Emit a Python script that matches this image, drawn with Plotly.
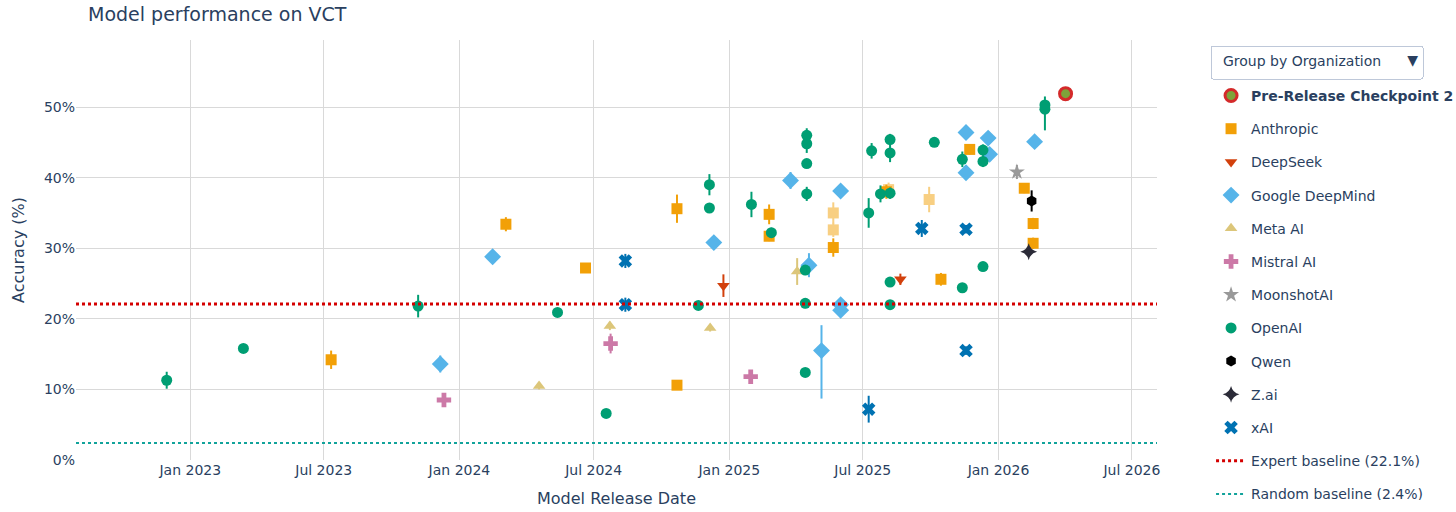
import plotly.graph_objects as go

# plot window
x_range = ["2022-07-30", "2026-08-04"]
y_range = [0, 59.5]

expert_baseline = 22.1
random_baseline = 2.4

prerelease_dates = ["2026-04-02"]
prerelease_acc = [51.9]

anthropic_dates = ["2023-07-11", "2024-03-04", "2024-06-20", "2024-10-22", "2024-10-22",
                   "2025-02-24", "2025-02-24", "2025-05-22", "2025-08-02", "2025-10-15",
                   "2025-11-23", "2026-02-05", "2026-02-17", "2026-02-17"]
anthropic_acc = [14.2, 33.4, 27.2, 10.6, 35.6, 34.8, 31.7, 30.1, 38.0, 25.6, 44.0, 38.5, 33.5, 30.7]
anthropic_err = [1.3, 1.0, 0.6, 0.6, 2.0, 1.4, 0.7, 1.3, 1.0, 0.9, 0.7, 0.7, 0.8, 0.8]

# lighter Anthropic variants
anthropic_alt_dates = ["2025-05-22", "2025-05-22", "2025-08-05", "2025-09-29"]
anthropic_alt_acc = [35.0, 32.6, 38.3, 36.9]
anthropic_alt_err = [1.5, 1.0, 1.0, 1.8]

deepseek_dates = ["2024-12-24", "2025-08-21"]
deepseek_acc = [24.7, 25.6]
deepseek_err = [1.6, 0.8]

gdm_dates = ["2023-12-06", "2024-02-15", "2024-12-11", "2025-03-25", "2025-04-19",
             "2025-05-06", "2025-06-01", "2025-06-01", "2025-06-01", "2025-11-18",
             "2025-11-18", "2025-12-18", "2025-12-20", "2026-02-19"]
gdm_acc = [13.6, 28.8, 30.8, 39.6, 27.6, 15.5, 38.1, 22.0, 21.2, 46.4, 40.7, 45.6, 43.3, 45.1]
gdm_err_up = [1.2, 0.5, 0.5, 1.2, 1.7, 3.6, 0.7, 0.8, 0.7, 0.6, 0.6, 1.0, 0.7, 0.9]
gdm_err_down = [1.2, 0.5, 0.5, 1.2, 1.7, 6.8, 0.7, 0.8, 0.7, 0.6, 0.6, 1.0, 0.7, 0.9]

meta_dates = ["2024-04-18", "2024-07-23", "2024-12-06", "2025-04-03"]
meta_acc = [10.5, 19.0, 18.7, 26.7]
meta_err = [0.5, 0.6, 0.5, 1.9]

mistral_dates = ["2023-12-11", "2024-07-24", "2025-01-30"]
mistral_acc = [8.5, 16.5, 11.8]
mistral_err = [0.6, 1.4, 0.8]

moonshot_dates = ["2026-01-26"]
moonshot_acc = [40.8]
moonshot_err = [1.0]

openai_dates = ["2022-11-30", "2023-03-14", "2023-11-06", "2024-05-13", "2024-07-18",
                "2024-11-20", "2024-12-05", "2024-12-05", "2025-01-31", "2025-02-27",
                "2025-04-14", "2025-04-14", "2025-04-14", "2025-04-16", "2025-04-16",
                "2025-04-16", "2025-04-16", "2025-07-09", "2025-07-13", "2025-07-25",
                "2025-08-07", "2025-08-07", "2025-08-07", "2025-08-07", "2025-08-07",
                "2025-10-06", "2025-11-13", "2025-11-13", "2025-12-11", "2025-12-11",
                "2025-12-11", "2026-03-05", "2026-03-05"]
openai_acc = [11.3, 15.8, 21.8, 20.9, 6.6, 21.9, 39.0, 35.7, 36.2, 32.2,
              26.9, 22.2, 12.4, 46.0, 44.8, 42.0, 37.7, 35.0, 43.8, 37.7,
              45.4, 43.5, 37.8, 25.2, 22.0, 45.0, 42.6, 24.4, 43.9, 42.3,
              27.4, 50.3, 49.7]
openai_err_up = [1.2, 0.5, 1.6, 0.6, 0.5, 0.6, 1.5, 0.6, 1.8, 0.7,
                 0.7, 0.7, 0.5, 1.0, 1.0, 0.6, 1.0, 2.1, 1.1, 1.2,
                 0.8, 1.3, 0.8, 0.6, 0.6, 0.6, 1.1, 0.6, 0.8, 0.8,
                 0.6, 1.2, 1.0]
openai_err_down = [1.2, 0.5, 1.6, 0.6, 0.5, 0.6, 1.5, 0.6, 1.8, 0.7,
                   0.7, 0.7, 0.5, 1.0, 1.3, 0.6, 1.0, 2.1, 1.1, 1.2,
                   0.8, 1.3, 0.8, 0.6, 0.6, 0.6, 1.1, 0.6, 0.8, 0.8,
                   0.6, 1.2, 3.0]

qwen_dates = ["2026-02-15"]
qwen_acc = [36.7]
qwen_err = [1.5]

zai_dates = ["2026-02-11"]
zai_acc = [29.5]
zai_err = [0.6]

xai_dates = ["2024-08-13", "2024-08-13", "2025-07-09", "2025-09-19", "2025-11-18", "2025-11-18"]
xai_acc = [28.2, 22.0, 7.2, 32.8, 32.7, 15.5]
xai_err = [1.0, 1.0, 1.9, 1.2, 0.6, 0.6]

TEXT = "#2a3f5f"
GRID = "#d9d9d9"

fig = go.Figure()


def add_org(name, dates, acc, err_up, err_down, color, symbol, size=11, opacity=1.0,
            showlegend=True, group=None):
    fig.add_trace(go.Scatter(
        x=dates, y=acc, mode="markers", name=name,
        legendgroup=group or name, showlegend=showlegend,
        marker=dict(color=color, symbol=symbol, size=size),
        error_y=dict(type="data", symmetric=False, array=err_up, arrayminus=err_down,
                     color=color, thickness=2, width=0),
        opacity=opacity,
    ))


fig.add_trace(go.Scatter(
    x=prerelease_dates, y=prerelease_acc, mode="markers",
    name="<b>Pre-Release Checkpoint 2</b>", legendgroup="pre",
    marker=dict(color="#7ea33a", symbol="circle", size=12,
                line=dict(color="#d42a2a", width=3)),
))
add_org("Anthropic", anthropic_dates, anthropic_acc, anthropic_err, anthropic_err, "#F2A007", "square")
add_org("Anthropic", anthropic_alt_dates, anthropic_alt_acc, anthropic_alt_err, anthropic_alt_err,
        "#F2A007", "square", opacity=0.5, showlegend=False, group="Anthropic")
add_org("DeepSeek", deepseek_dates, deepseek_acc, deepseek_err, deepseek_err, "#D2400C", "triangle-down")
add_org("Google DeepMind", gdm_dates, gdm_acc, gdm_err_up, gdm_err_down, "#56B4E9", "diamond", size=13)
add_org("Meta AI", meta_dates, meta_acc, meta_err, meta_err, "#DCC67A", "triangle-up")
add_org("Mistral AI", mistral_dates, mistral_acc, mistral_err, mistral_err, "#CC79A7", "cross", size=12)
add_org("MoonshotAI", moonshot_dates, moonshot_acc, moonshot_err, moonshot_err, "#999999", "star", size=12)
add_org("OpenAI", openai_dates, openai_acc, openai_err_up, openai_err_down, "#009E73", "circle")
add_org("Qwen", qwen_dates, qwen_acc, qwen_err, qwen_err, "#000000", "hexagon")
add_org("Z.ai", zai_dates, zai_acc, zai_err, zai_err, "#2b2b38", "star-diamond", size=12)
add_org("xAI", xai_dates, xai_acc, xai_err, xai_err, "#0072B2", "x", size=12)

fig.add_trace(go.Scatter(
    x=x_range, y=[expert_baseline] * 2, mode="lines",
    name=f"Expert baseline ({expert_baseline}%)", legendgroup="expert",
    line=dict(color="#d40000", width=3, dash="dot"), hoverinfo="skip",
))
fig.add_trace(go.Scatter(
    x=x_range, y=[random_baseline] * 2, mode="lines",
    name=f"Random baseline ({random_baseline}%)", legendgroup="random",
    line=dict(color="#12a39b", width=2, dash="dot"), hoverinfo="skip",
))

fig.update_layout(
    template="plotly_white",
    width=1456, height=512,
    margin=dict(l=76, r=299, t=40, b=52, autoexpand=False),
    font=dict(family="DejaVu Sans, Verdana, sans-serif", size=14, color=TEXT),
    title=dict(text="Model performance on VCT", x=88 / 1456, xref="container", xanchor="left",
               y=1 - 14 / 512, yanchor="middle", font=dict(size=19, color=TEXT)),
    xaxis=dict(title=dict(text="Model Release Date", font=dict(size=16)), range=x_range,
               tick0="2023-01-01", dtick="M6", tickformat="%b %Y",
               showgrid=True, gridcolor=GRID, zeroline=False, showline=False),
    yaxis=dict(title=dict(text="Accuracy (%)", font=dict(size=16)), range=y_range,
               dtick=10, ticksuffix="%", showgrid=True, gridcolor=GRID,
               zeroline=False, showline=False),
    legend=dict(x=1.05, y=0.905, xanchor="left", yanchor="top",
                font=dict(size=14, color=TEXT), tracegroupgap=12, bgcolor="rgba(0,0,0,0)"),
    updatemenus=[dict(
        type="dropdown", direction="down", showactive=True, active=0,
        x=1.049, y=0.988, xanchor="left", yanchor="top",
        bgcolor="white", bordercolor="#BEC8D9", borderwidth=1,
        font=dict(size=14, color=TEXT),
        pad=dict(r=0, t=0, l=0, b=0),
        buttons=[dict(label="Group by Organization\u00a0\u00a0\u00a0", method="skip", args=[None])],
    )],
)

# drop the page's default body margin so the figure sits flush in the window
fig.write_html("out.html", config={"displayModeBar": False},
               post_script="document.body.style.margin='0px';")
